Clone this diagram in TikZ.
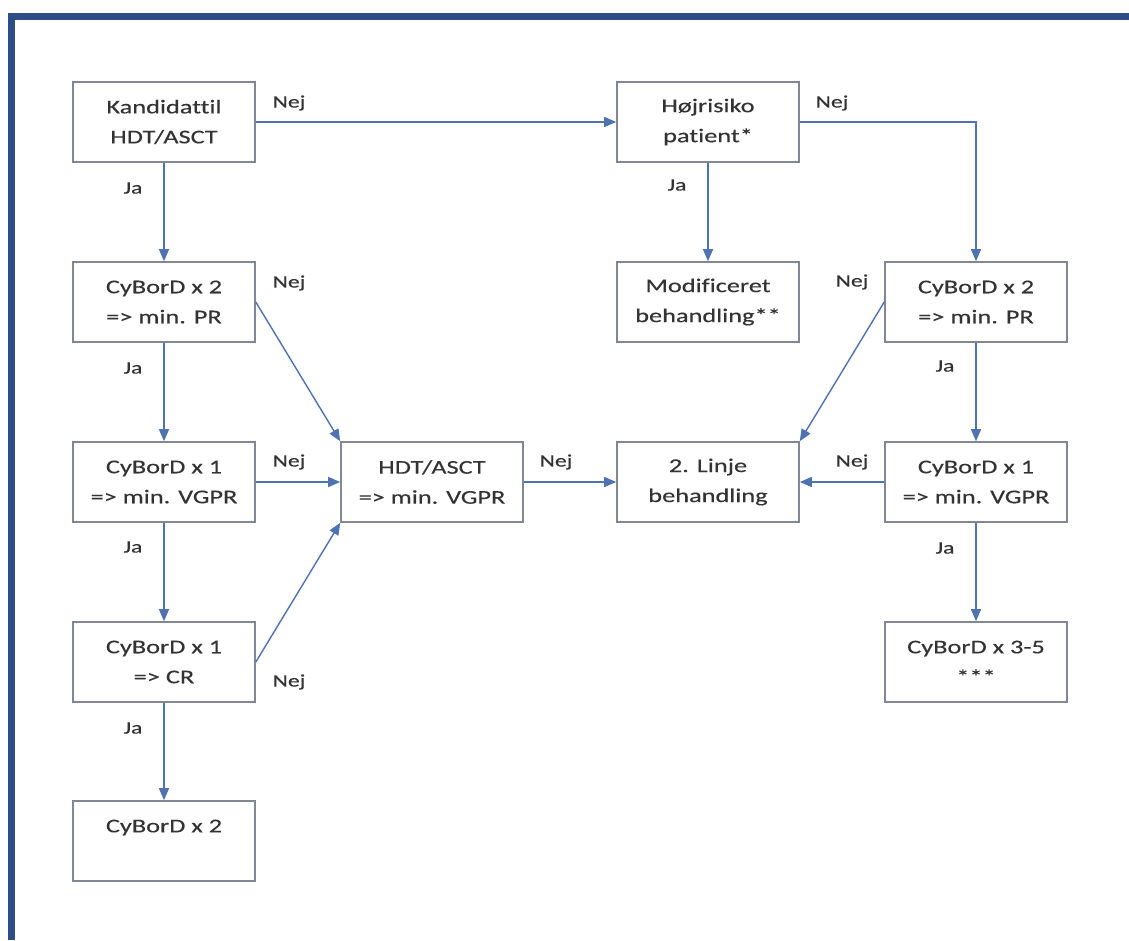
\documentclass[tikz,border=0pt]{standalone}
\usepackage{fontspec}
\setmainfont{Carlito}[FakeStretch=1.35,FakeBold=0.25,Ligatures=NoCommon]
\usetikzlibrary{arrows.meta}
\definecolor{frameblue}{HTML}{2E4C86}
\definecolor{boxgray}{HTML}{7F8894}
\definecolor{arrowblue}{HTML}{4F72B0}
\definecolor{txt}{HTML}{333333}
\tikzset{
  box/.style={draw=boxgray, line width=1.6pt, fill=white, minimum width=182pt, minimum height=80pt,
    inner sep=0pt, align=center, text=txt, font=\fontsize{19.5}{30}\selectfont},
  conn/.style={draw=arrowblue, line width=1.4pt, -{Triangle[length=12pt,width=10pt]}},
  lbl/.style={text=txt, font=\fontsize{17.5}{20}\selectfont, inner sep=0pt}
}
\begin{document}
\begin{tikzpicture}[x=1pt,y=-1pt]
\useasboundingbox (0,0) rectangle (1129,940);
\fill[white] (0,0) rectangle (1129,940);
% frame
\fill[frameblue] (8,13) rectangle (1129,20);
\fill[frameblue] (8,13) rectangle (15,940);

% nodes
\node[box] (kand) at (164,122) {Kandidattil\\HDT/ASCT};
\node[box] (hoj)  at (708,122) {Højrisiko\\patient*};
\node[box] (L1)   at (164,302) {CyBorD x 2\\=> min. PR};
\node[box] (mod)  at (708,302) {Modificeret\\behandling**};
\node[box] (R1)   at (976,302) {CyBorD x 2\\=> min. PR};
\node[box] (L2)   at (164,482) {CyBorD x 1\\=> min. VGPR};
\node[box] (hdt)  at (432,482) {HDT/ASCT\\=> min. VGPR};
\node[box] (lin)  at (708,482) {2. Linje\\behandling};
\node[box] (R2)   at (976,482) {CyBorD x 1\\=> min. VGPR};
\node[box] (L3)   at (164,662) {CyBorD x 1\\=> CR};
\node[box] (R3)   at (976,662) {CyBorD x 3-5\\***};
\node[box] (L4)   at (164,841) {CyBorD x 2\\\mbox{}};

% connectors
\draw[conn] (kand.east) -- (hoj.west);
\draw[conn] (hoj.east) -| (R1.north);
\draw[conn] (hoj.south) -- (mod.north);
\draw[conn] (kand.south) -- (L1.north);
\draw[conn] (L1.south) -- (L2.north);
\draw[conn] (L2.south) -- (L3.north);
\draw[conn] (L3.south) -- (L4.north);
\draw[conn] (L1.east) -- (hdt.north west);
\draw[conn] (L2.east) -- (hdt.west);
\draw[conn] (L3.east) -- (hdt.south west);
\draw[conn] (hdt.east) -- (lin.west);
\draw[conn] (R1.west) -- (lin.north east);
\draw[conn] (R2.west) -- (lin.east);
\draw[conn] (R1.south) -- (R2.north);
\draw[conn] (R2.south) -- (R3.north);

% labels
\node[lbl] (n1) at (289,103) {Nej};
\node[lbl] (n2) at (832,103) {Nej};
\node[lbl] (n3) at (289,283) {Nej};
\node[lbl] (n4) at (852,282) {Nej};
\node[lbl] (n5) at (289,462) {Nej};
\node[lbl] (n6) at (556,462) {Nej};
\node[lbl] (n7) at (852,462) {Nej};
\node[lbl] (n8) at (289,682) {Nej};
\node[lbl] (j1) at (133,188) {Ja};
\node[lbl] (j2) at (677,185) {Ja};
\node[lbl] (j3) at (133,368) {Ja};
\node[lbl] (j4) at (945,366) {Ja};
\node[lbl] (j5) at (133,547) {Ja};
\node[lbl] (j6) at (945,548) {Ja};
\node[lbl] (j7) at (133,728) {Ja};
\end{tikzpicture}
\end{document}
